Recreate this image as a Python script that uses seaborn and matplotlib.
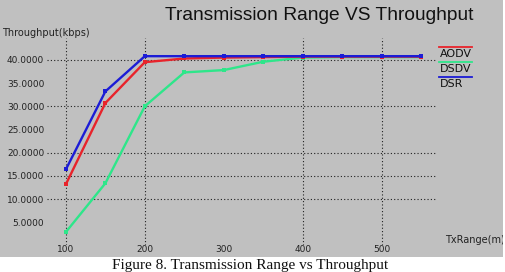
import pandas as pd
import seaborn as sns
import matplotlib.pyplot as plt
from matplotlib.lines import Line2D
from matplotlib.patches import Rectangle

# data
tx_range = [100, 150, 200, 250, 300, 350, 400, 450, 500, 550]
aodv = [13.2, 30.7, 39.5, 40.3, 40.5, 40.6, 40.7, 40.7, 40.7, 40.7]
dsdv = [2.9, 13.4, 30.0, 37.3, 37.8, 39.6, 40.5, 40.6, 40.6, 40.6]
dsr = [16.4, 33.2, 40.8, 40.8, 40.8, 40.8, 40.8, 40.8, 40.8, 40.8]
protocols = ['DSDV', 'AODV', 'DSR']
colors = {'AODV': '#e8232b', 'DSDV': '#2ee68a', 'DSR': '#1c1cd6'}
y_ticks = [5, 10, 15, 20, 25, 30, 35, 40]
x_ticks = [100, 200, 300, 400, 500]
grid_y = [10, 15, 20, 30, 40]
grid_x = [100, 200, 400, 500]

df = pd.DataFrame({
    'TxRange': tx_range * 3,
    'Throughput': dsdv + aodv + dsr,
    'Protocol': ['DSDV'] * len(tx_range) + ['AODV'] * len(tx_range) + ['DSR'] * len(tx_range),
})

bg = '#c0c0c0'
fig = plt.figure(figsize=(5.05, 2.72), dpi=100, facecolor=bg)
ax = fig.add_axes([0.093, 0.101, 0.772, 0.759], facecolor=bg)

# grid drawn first, only at the lines the original shows
for gy in grid_y:
    ax.axhline(gy, color='#202020', lw=0.8, ls=(0, (1, 2)), zorder=1)
for gx in grid_x:
    ax.axvline(gx, color='#202020', lw=0.8, ls=(0, (1, 2)), zorder=1)

sns.lineplot(data=df, x='TxRange', y='Throughput', hue='Protocol',
             hue_order=protocols, palette=colors, marker='s', markersize=3.5,
             markeredgewidth=0, linewidth=1.7, legend=False, ax=ax, zorder=3)

ax.set_xlim(76, 570)
ax.set_ylim(0.2, 44.7)
ax.set_xticks(x_ticks)
ax.set_xticklabels([str(v) for v in x_ticks])
ax.set_yticks(y_ticks)
ax.set_yticklabels(['%.4f' % v for v in y_ticks])
ax.tick_params(length=0, labelsize=6.5, labelcolor='#222222', pad=2)
ax.tick_params(axis='x', pad=0.5)
ax.set_xlabel('')
ax.set_ylabel('')
for s in ax.spines.values():
    s.set_visible(False)

# titles and axis names
fig.text(0.632, 0.942, 'Transmission Range VS Throughput', ha='center', va='center',
         fontsize=13.8, family='Liberation Sans', color='#111111')
fig.text(0.004, 0.878, 'Throughput(kbps)', ha='left', va='center', fontsize=7, color='#222222')
fig.text(0.881, 0.117, 'TxRange(m)', ha='left', va='center', fontsize=7, color='#222222')

# legend: line above each label, at the right
leg_y = [0.827, 0.772, 0.717]
for name, ly in zip(['AODV', 'DSDV', 'DSR'], leg_y):
    fig.add_artist(Line2D([0.870, 0.935], [ly, ly], color=colors[name], lw=1.3,
                          transform=fig.transFigure))
    fig.text(0.872, ly - 0.024, name, ha='left', va='center', fontsize=8, color='#111111')

# white caption band at the bottom
fig.add_artist(Rectangle((0, 0), 1, 15 / 272, transform=fig.transFigure,
                         facecolor='white', edgecolor='none', zorder=5))
fig.add_artist(Rectangle((503 / 505, 0), 2 / 505, 1, transform=fig.transFigure,
                         facecolor='white', edgecolor='none', zorder=5))
fig.text(0.495, 0.0, 'Figure 8. Transmission Range vs Throughput', ha='center', va='bottom',
         fontsize=11, family='Liberation Serif', color='#111111', zorder=6)

fig.savefig('out.png', dpi=100, facecolor=bg)
